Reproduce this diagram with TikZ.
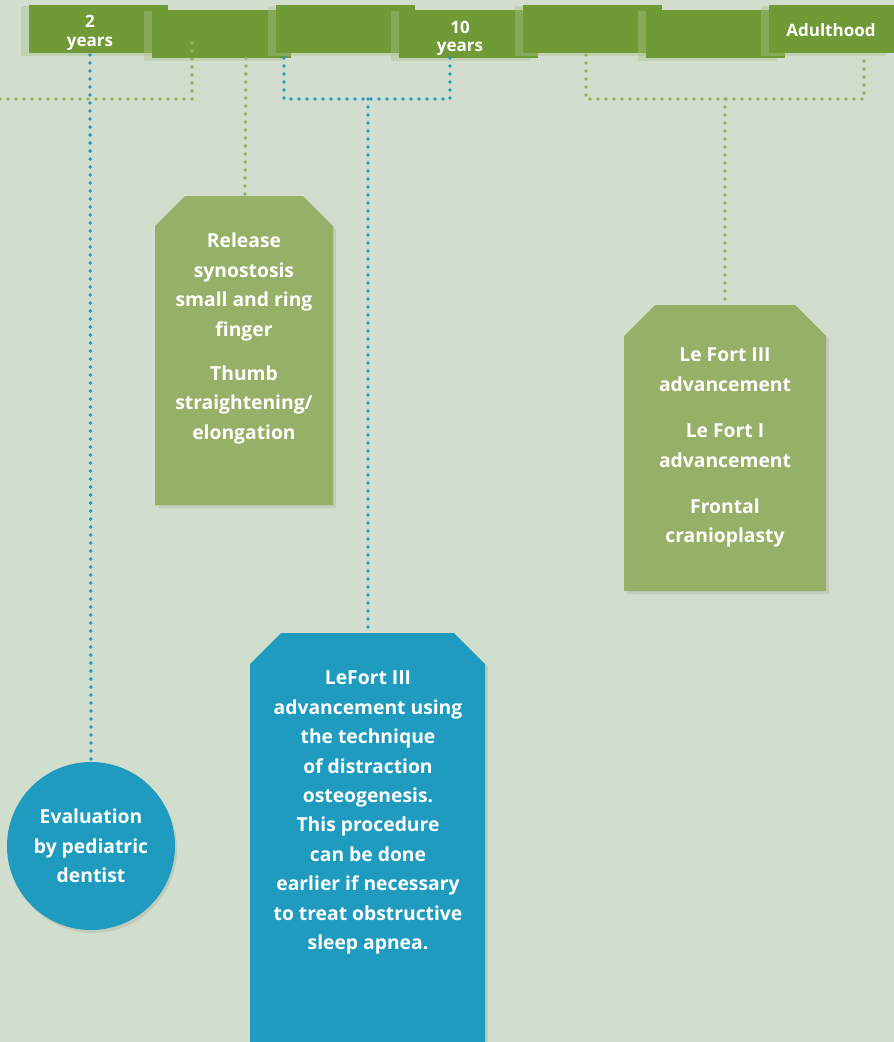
\documentclass[tikz,border=0pt]{standalone}
\usepackage{fontspec}
\setmainfont{Open Sans}
\definecolor{bg}{HTML}{D1DDCD}
\definecolor{bar}{HTML}{6F9A35}
\definecolor{barshadow}{HTML}{A9C28A}
\definecolor{gbox}{HTML}{97B068}
\definecolor{bbox}{HTML}{1E9BBE}
\definecolor{gdot}{HTML}{8DB25E}
\definecolor{bdot}{HTML}{1A9BC6}
\tikzset{
  dotline/.style={line width=3.8pt, line cap=round, dash pattern=on 0pt off 8pt},
  gdots/.style={dotline, draw=gdot},
  bdots/.style={dotline, draw=bdot},
  boxtext/.style={text=white, font=\fontsize{19.3}{29.4}\selectfont\bfseries, align=center, inner sep=0pt, anchor=north},
  bartext/.style={text=white, font=\fontsize{17}{18.5}\selectfont\bfseries, align=center, inner sep=0pt},
  boxshadow/.style={fill=black, opacity=0.08},
}
\newcommand{\barseg}[4]{% x1 y1 x2 y2
  \fill[barshadow, opacity=0.4] (#1-8,#2+1) rectangle (#3-8,#4+3);
  \fill[bar] (#1,#2) rectangle (#3,#4);
}
\newcommand{\chambox}[6]{% x1 x2 ytop ybot c colour
  \fill[boxshadow] (#1+31+3,#3+3) -- (#2-31+3,#3+3) -- (#2+3,#3+31+3) -- (#2+3,#4+3) -- (#1+3,#4+3) -- (#1+3,#3+31+3) -- cycle;
  \fill[#6] (#1+#5,#3) -- (#2-#5,#3) -- (#2,#3+#5) -- (#2,#4) -- (#1,#4) -- (#1,#3+#5) -- cycle;
}
\begin{document}
\begin{tikzpicture}[x=1pt,y=-1pt]
\useasboundingbox (0,0) rectangle (894,1042);
\fill[bg] (0,0) rectangle (894,1042);

% top bar
\barseg{29}{5}{168}{53}
\barseg{152}{10}{291}{58}
\barseg{276}{5}{415}{53}
\barseg{399}{10}{538}{58}
\barseg{523}{5}{662}{53}
\barseg{646}{10}{785}{58}
\barseg{769}{5}{894}{53}

\node[bartext] (t2) at (90,33) {2\\years};
\node[bartext] (t10) at (460,38.5) {10\\years};
\node[bartext] (tad) at (831,30.5) {Adulthood};

% coordinates for connectors
\coordinate (g1a) at (0,99);
\coordinate (g1b) at (192,99);
\coordinate (g1c) at (192,38);
\coordinate (g2a) at (246,58);
\coordinate (b1a) at (90,55);
\coordinate (b2a) at (284,58);
\coordinate (b2b) at (284,99);
\coordinate (b2c) at (450,99);
\coordinate (b2d) at (450,58);
\coordinate (b2m) at (368,99);
\coordinate (g3a) at (586,55);
\coordinate (g3b) at (586,99);
\coordinate (g3c) at (864,99);
\coordinate (g3d) at (864,55);
\coordinate (g3m) at (725,99);

% boxes
\chambox{155}{333}{196}{505}{30}{gbox}
\coordinate (box1) at (245,196);
\chambox{624}{826}{305}{591}{31}{gbox}
\coordinate (box2) at (725,305);
\chambox{250}{485}{633}{1060}{31}{bbox}
\coordinate (box3) at (368,633);
\fill[black, opacity=0.08] (93,849) circle (84);
\node[circle, fill=bbox, minimum size=168pt, inner sep=0pt] (circ) at (91,846) {};

% dotted connectors
\draw[gdots] (g1a) -- (g1b) -- (g1c);
\draw[gdots] (g2a) -- (box1);
\draw[bdots] (b1a) -- (circ.north);
\draw[bdots] (b2a) -- (b2b) -- (b2c) -- (b2d);
\draw[bdots] (b2m) -- (box3);
\draw[gdots] (g3a) -- (g3b) -- (g3c) -- (g3d);
\draw[gdots] (g3m) -- (box2);

% texts
\node[boxtext] (txt1) at (244,233) {Release\\synostosis\\small and ring\\finger\\[15pt]Thumb\\straightening/\\elongation};
\node[boxtext] (txt2) at (725,348) {Le Fort III\\advancement\\[17pt]Le Fort I\\advancement\\[17pt]Frontal\\cranioplasty};
\node[boxtext] (txt3) at (368,671) {LeFort III\\advancement using\\the technique\\of distraction\\osteogenesis.\\This procedure\\can be done\\earlier if necessary\\to treat obstructive\\sleep apnea.};
\node[boxtext, anchor=center] (txt4) at (91,846) {Evaluation\\by pediatric\\dentist};
\end{tikzpicture}
\end{document}
